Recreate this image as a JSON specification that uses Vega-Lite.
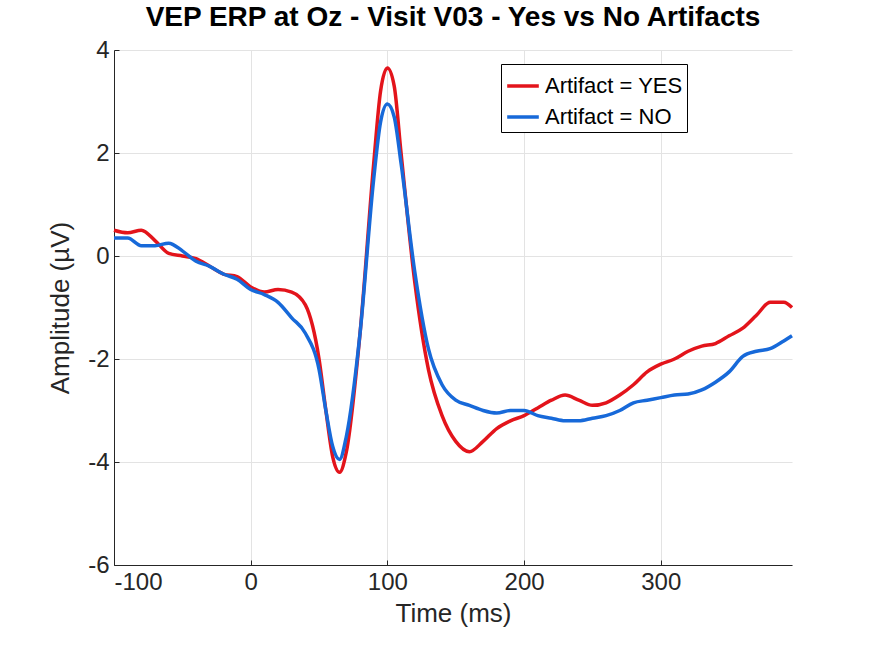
{
  "$schema": "https://vega.github.io/schema/vega-lite/v6.json",
  "autosize": "none",
  "width": 678,
  "height": 515,
  "padding": {"left": 114, "top": 50, "right": 83, "bottom": 91},
  "background": "white",
  "config": {
    "font": "Liberation Sans",
    "view": {"stroke": null},
    "axis": {"labelFontSize": 24, "titleFontSize": 26, "labelColor": "#262626", "titleColor": "#262626", "titleFontWeight": "normal", "domainColor": "#262626", "tickColor": "#262626", "gridColor": "#e3e3e3", "tickSize": -5, "labelPadding": 10, "labelExpr": "replace(datum.label, '−', '-')"}
  },
  "title": {"text": "VEP ERP at Oz - Visit V03 - Yes vs No Artifacts", "fontSize": 28, "fontWeight": "bold", "color": "black", "offset": 6, "anchor": "middle"},
  "data": {"values": [
    {"t": -100, "a": 0.5, "s": "Artifact = YES"}, {"t": -90, "a": 0.45, "s": "Artifact = YES"}, {"t": -80, "a": 0.5, "s": "Artifact = YES"}, {"t": -70, "a": 0.3, "s": "Artifact = YES"}, {"t": -60, "a": 0.05, "s": "Artifact = YES"}, {"t": -50, "a": 0.0, "s": "Artifact = YES"}, {"t": -40, "a": -0.05, "s": "Artifact = YES"}, {"t": -30, "a": -0.2, "s": "Artifact = YES"}, {"t": -20, "a": -0.35, "s": "Artifact = YES"}, {"t": -10, "a": -0.4, "s": "Artifact = YES"}, {"t": 0, "a": -0.6, "s": "Artifact = YES"}, {"t": 10, "a": -0.7, "s": "Artifact = YES"}, {"t": 20, "a": -0.65, "s": "Artifact = YES"}, {"t": 30, "a": -0.7, "s": "Artifact = YES"}, {"t": 40, "a": -0.95, "s": "Artifact = YES"}, {"t": 50, "a": -2.0, "s": "Artifact = YES"}, {"t": 55, "a": -3.0, "s": "Artifact = YES"}, {"t": 60, "a": -3.9, "s": "Artifact = YES"}, {"t": 65, "a": -4.2, "s": "Artifact = YES"}, {"t": 70, "a": -3.8, "s": "Artifact = YES"}, {"t": 80, "a": -1.5, "s": "Artifact = YES"}, {"t": 90, "a": 1.8, "s": "Artifact = YES"}, {"t": 95, "a": 3.2, "s": "Artifact = YES"}, {"t": 100, "a": 3.65, "s": "Artifact = YES"}, {"t": 105, "a": 3.3, "s": "Artifact = YES"}, {"t": 110, "a": 2.0, "s": "Artifact = YES"}, {"t": 120, "a": -0.5, "s": "Artifact = YES"}, {"t": 130, "a": -2.2, "s": "Artifact = YES"}, {"t": 140, "a": -3.1, "s": "Artifact = YES"}, {"t": 150, "a": -3.6, "s": "Artifact = YES"}, {"t": 160, "a": -3.8, "s": "Artifact = YES"}, {"t": 170, "a": -3.6, "s": "Artifact = YES"}, {"t": 180, "a": -3.35, "s": "Artifact = YES"}, {"t": 190, "a": -3.2, "s": "Artifact = YES"}, {"t": 200, "a": -3.1, "s": "Artifact = YES"}, {"t": 210, "a": -2.95, "s": "Artifact = YES"}, {"t": 220, "a": -2.8, "s": "Artifact = YES"}, {"t": 230, "a": -2.7, "s": "Artifact = YES"}, {"t": 240, "a": -2.8, "s": "Artifact = YES"}, {"t": 250, "a": -2.9, "s": "Artifact = YES"}, {"t": 260, "a": -2.85, "s": "Artifact = YES"}, {"t": 270, "a": -2.7, "s": "Artifact = YES"}, {"t": 280, "a": -2.5, "s": "Artifact = YES"}, {"t": 290, "a": -2.25, "s": "Artifact = YES"}, {"t": 300, "a": -2.1, "s": "Artifact = YES"}, {"t": 310, "a": -2.0, "s": "Artifact = YES"}, {"t": 320, "a": -1.85, "s": "Artifact = YES"}, {"t": 330, "a": -1.75, "s": "Artifact = YES"}, {"t": 340, "a": -1.7, "s": "Artifact = YES"}, {"t": 350, "a": -1.55, "s": "Artifact = YES"}, {"t": 360, "a": -1.4, "s": "Artifact = YES"}, {"t": 370, "a": -1.15, "s": "Artifact = YES"}, {"t": 380, "a": -0.9, "s": "Artifact = YES"}, {"t": 390, "a": -0.9, "s": "Artifact = YES"}, {"t": 396, "a": -1.0, "s": "Artifact = YES"},
    {"t": -100, "a": 0.35, "s": "Artifact = NO"}, {"t": -90, "a": 0.35, "s": "Artifact = NO"}, {"t": -80, "a": 0.2, "s": "Artifact = NO"}, {"t": -70, "a": 0.2, "s": "Artifact = NO"}, {"t": -60, "a": 0.25, "s": "Artifact = NO"}, {"t": -50, "a": 0.1, "s": "Artifact = NO"}, {"t": -40, "a": -0.1, "s": "Artifact = NO"}, {"t": -30, "a": -0.2, "s": "Artifact = NO"}, {"t": -20, "a": -0.35, "s": "Artifact = NO"}, {"t": -10, "a": -0.45, "s": "Artifact = NO"}, {"t": 0, "a": -0.65, "s": "Artifact = NO"}, {"t": 10, "a": -0.75, "s": "Artifact = NO"}, {"t": 20, "a": -0.9, "s": "Artifact = NO"}, {"t": 30, "a": -1.2, "s": "Artifact = NO"}, {"t": 40, "a": -1.5, "s": "Artifact = NO"}, {"t": 50, "a": -2.2, "s": "Artifact = NO"}, {"t": 55, "a": -3.0, "s": "Artifact = NO"}, {"t": 60, "a": -3.7, "s": "Artifact = NO"}, {"t": 65, "a": -3.95, "s": "Artifact = NO"}, {"t": 70, "a": -3.5, "s": "Artifact = NO"}, {"t": 80, "a": -1.5, "s": "Artifact = NO"}, {"t": 90, "a": 1.5, "s": "Artifact = NO"}, {"t": 95, "a": 2.6, "s": "Artifact = NO"}, {"t": 100, "a": 2.95, "s": "Artifact = NO"}, {"t": 105, "a": 2.7, "s": "Artifact = NO"}, {"t": 110, "a": 1.8, "s": "Artifact = NO"}, {"t": 120, "a": -0.3, "s": "Artifact = NO"}, {"t": 130, "a": -1.8, "s": "Artifact = NO"}, {"t": 140, "a": -2.5, "s": "Artifact = NO"}, {"t": 150, "a": -2.8, "s": "Artifact = NO"}, {"t": 160, "a": -2.9, "s": "Artifact = NO"}, {"t": 170, "a": -3.0, "s": "Artifact = NO"}, {"t": 180, "a": -3.05, "s": "Artifact = NO"}, {"t": 190, "a": -3.0, "s": "Artifact = NO"}, {"t": 200, "a": -3.0, "s": "Artifact = NO"}, {"t": 210, "a": -3.1, "s": "Artifact = NO"}, {"t": 220, "a": -3.15, "s": "Artifact = NO"}, {"t": 230, "a": -3.2, "s": "Artifact = NO"}, {"t": 240, "a": -3.2, "s": "Artifact = NO"}, {"t": 250, "a": -3.15, "s": "Artifact = NO"}, {"t": 260, "a": -3.1, "s": "Artifact = NO"}, {"t": 270, "a": -3.0, "s": "Artifact = NO"}, {"t": 280, "a": -2.85, "s": "Artifact = NO"}, {"t": 290, "a": -2.8, "s": "Artifact = NO"}, {"t": 300, "a": -2.75, "s": "Artifact = NO"}, {"t": 310, "a": -2.7, "s": "Artifact = NO"}, {"t": 320, "a": -2.68, "s": "Artifact = NO"}, {"t": 330, "a": -2.6, "s": "Artifact = NO"}, {"t": 340, "a": -2.45, "s": "Artifact = NO"}, {"t": 350, "a": -2.25, "s": "Artifact = NO"}, {"t": 360, "a": -1.95, "s": "Artifact = NO"}, {"t": 370, "a": -1.85, "s": "Artifact = NO"}, {"t": 380, "a": -1.8, "s": "Artifact = NO"}, {"t": 390, "a": -1.65, "s": "Artifact = NO"}, {"t": 396, "a": -1.55, "s": "Artifact = NO"}
  ]},
  "mark": {"type": "line", "interpolate": "monotone", "strokeWidth": 3.5},
  "encoding": {
    "x": {"field": "t", "type": "quantitative", "title": "Time (ms)", "scale": {"domain": [-100, 396], "nice": false, "zero": false}, "axis": {"values": [-100, 0, 100, 200, 300], "titlePadding": 6}},
    "y": {"field": "a", "type": "quantitative", "title": "Amplitude (µV)", "scale": {"domain": [-6, 4], "nice": false}, "axis": {"values": [-6, -4, -2, 0, 2, 4], "titlePadding": 14}},
    "color": {"field": "s", "type": "nominal", "sort": ["Artifact = YES", "Artifact = NO"], "scale": {"domain": ["Artifact = YES", "Artifact = NO"], "range": ["#e3141b", "#1769d9"]},
      "legend": {"title": null, "orient": "none", "legendX": 387, "legendY": 14, "symbolType": "stroke", "symbolSize": 1000, "symbolStrokeWidth": 3.5, "labelFontSize": 22, "labelColor": "black", "strokeColor": "black", "fillColor": "white", "padding": 4, "rowPadding": 2, "labelLimit": 300}}
  }
}
